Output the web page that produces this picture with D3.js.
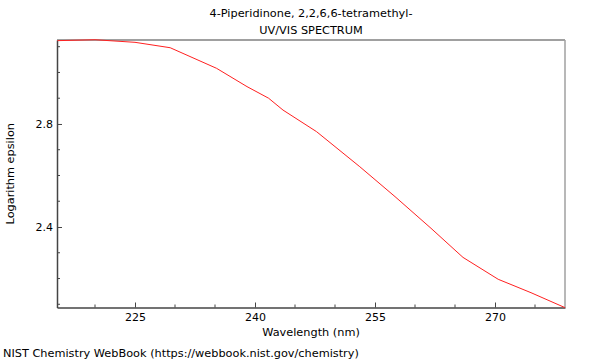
<!DOCTYPE html>
<html><head><meta charset="utf-8">
<script src="https://cdn.jsdelivr.net/npm/d3@7"></script>
<style>body{margin:0;background:#fff}text{font-family:"DejaVu Sans",sans-serif;fill:#000}</style>
</head><body><svg id="c" width="600" height="360"></svg>
<script>
const title = "4-Piperidinone, 2,2,6,6-tetramethyl-";
const subtitle = "UV/VIS SPECTRUM";
const xLabel = "Wavelength (nm)";
const yLabel = "Logarithm epsilon";
const credit = "NIST Chemistry WebBook (https://webbook.nist.gov/chemistry)";
const wavelength = [215.3, 220.0, 225.0, 229.4, 235.2, 239.0, 241.7, 243.5, 247.7, 253.1, 257.5, 262.0, 266.0, 270.4, 274.5, 278.75];
const logEps     = [3.1235, 3.127, 3.117, 3.096, 3.016, 2.945, 2.900, 2.854, 2.770, 2.634, 2.518, 2.395, 2.282, 2.197, 2.145, 2.087];
const xMajor = [225, 240, 255, 270];
const yMajor = [2.4, 2.8];
const xDomain = [215.25, 278.75];
const yDomain = [2.0875, 3.126];

const svg = d3.select("#c");
const L = 57, R = 565, T = 40, B = 307.5;
const x = d3.scaleLinear().domain(xDomain).range([L, R]);
const y = d3.scaleLinear().domain(yDomain).range([B, T]);

// frame
svg.append("line").attr("x1", L).attr("x2", R).attr("y1", T).attr("y2", T).attr("stroke", "#a0a0a0").attr("stroke-width", 2);
svg.append("line").attr("x1", R).attr("x2", R).attr("y1", T).attr("y2", B).attr("stroke", "#a0a0a0").attr("stroke-width", 1.5);

// x axis
const xMinor = d3.range(220, 279, 5).filter(v => !xMajor.includes(v));
const xAx = svg.append("g").attr("transform", `translate(0,${B})`);
xAx.call(d3.axisBottom(x).tickValues(xMajor).tickSizeInner(-5).tickSizeOuter(0).tickFormat(d3.format("d")))
  .call(g => g.select(".domain").attr("stroke", "#444").attr("stroke-width", 1.5))
  .call(g => g.selectAll(".tick line").attr("stroke", "#444"))
  .call(g => g.selectAll(".tick text").attr("y", 6).attr("dy", "0.71em").attr("font-size", 11).attr("font-family", "DejaVu Sans"));
xAx.selectAll(".minor").data(xMinor).join("line").attr("class", "minor")
  .attr("x1", d => x(d)).attr("x2", d => x(d)).attr("y1", 0).attr("y2", -3).attr("stroke", "#444");

// y axis
const yMinor = [2.1, 2.2, 2.3, 2.5, 2.6, 2.7, 2.9, 3.0, 3.1];
const yAx = svg.append("g").attr("transform", `translate(${L},0)`);
yAx.call(d3.axisLeft(y).tickValues(yMajor).tickSizeInner(-5).tickSizeOuter(0).tickFormat(d3.format(".1f")))
  .call(g => g.select(".domain").attr("stroke", "#444").attr("stroke-width", 1.5))
  .call(g => g.selectAll(".tick line").attr("stroke", "#444"))
  .call(g => g.selectAll(".tick text").attr("x", -4).attr("font-size", 11).attr("font-family", "DejaVu Sans"));
yAx.selectAll(".minor").data(yMinor).join("line").attr("class", "minor")
  .attr("x1", 0).attr("x2", 3).attr("y1", d => y(d)).attr("y2", d => y(d)).attr("stroke", "#444");

// curve
const pts = wavelength.map((w, i) => [w, logEps[i]]);
svg.append("path").datum(pts)
  .attr("d", d3.line().x(d => x(d[0])).y(d => y(d[1])))
  .attr("fill", "none").attr("stroke", "#ff2020").attr("stroke-width", 1);

// texts
const cx = (L + R) / 2;
svg.append("text").attr("x", cx).attr("y", 17).attr("text-anchor", "middle").attr("font-size", 11.3).text(title);
svg.append("text").attr("x", cx).attr("y", 34).attr("text-anchor", "middle").attr("font-size", 11.3).text(subtitle);
svg.append("text").attr("x", cx).attr("y", 336).attr("text-anchor", "middle").attr("font-size", 11.3).text(xLabel);
svg.append("text").attr("transform", `translate(14,${(T + B) / 2}) rotate(-90)`).attr("text-anchor", "middle").attr("font-size", 11.3).text(yLabel);
svg.append("text").attr("x", 3).attr("y", 357).attr("font-size", 11.3).text(credit);
</script></body></html>
